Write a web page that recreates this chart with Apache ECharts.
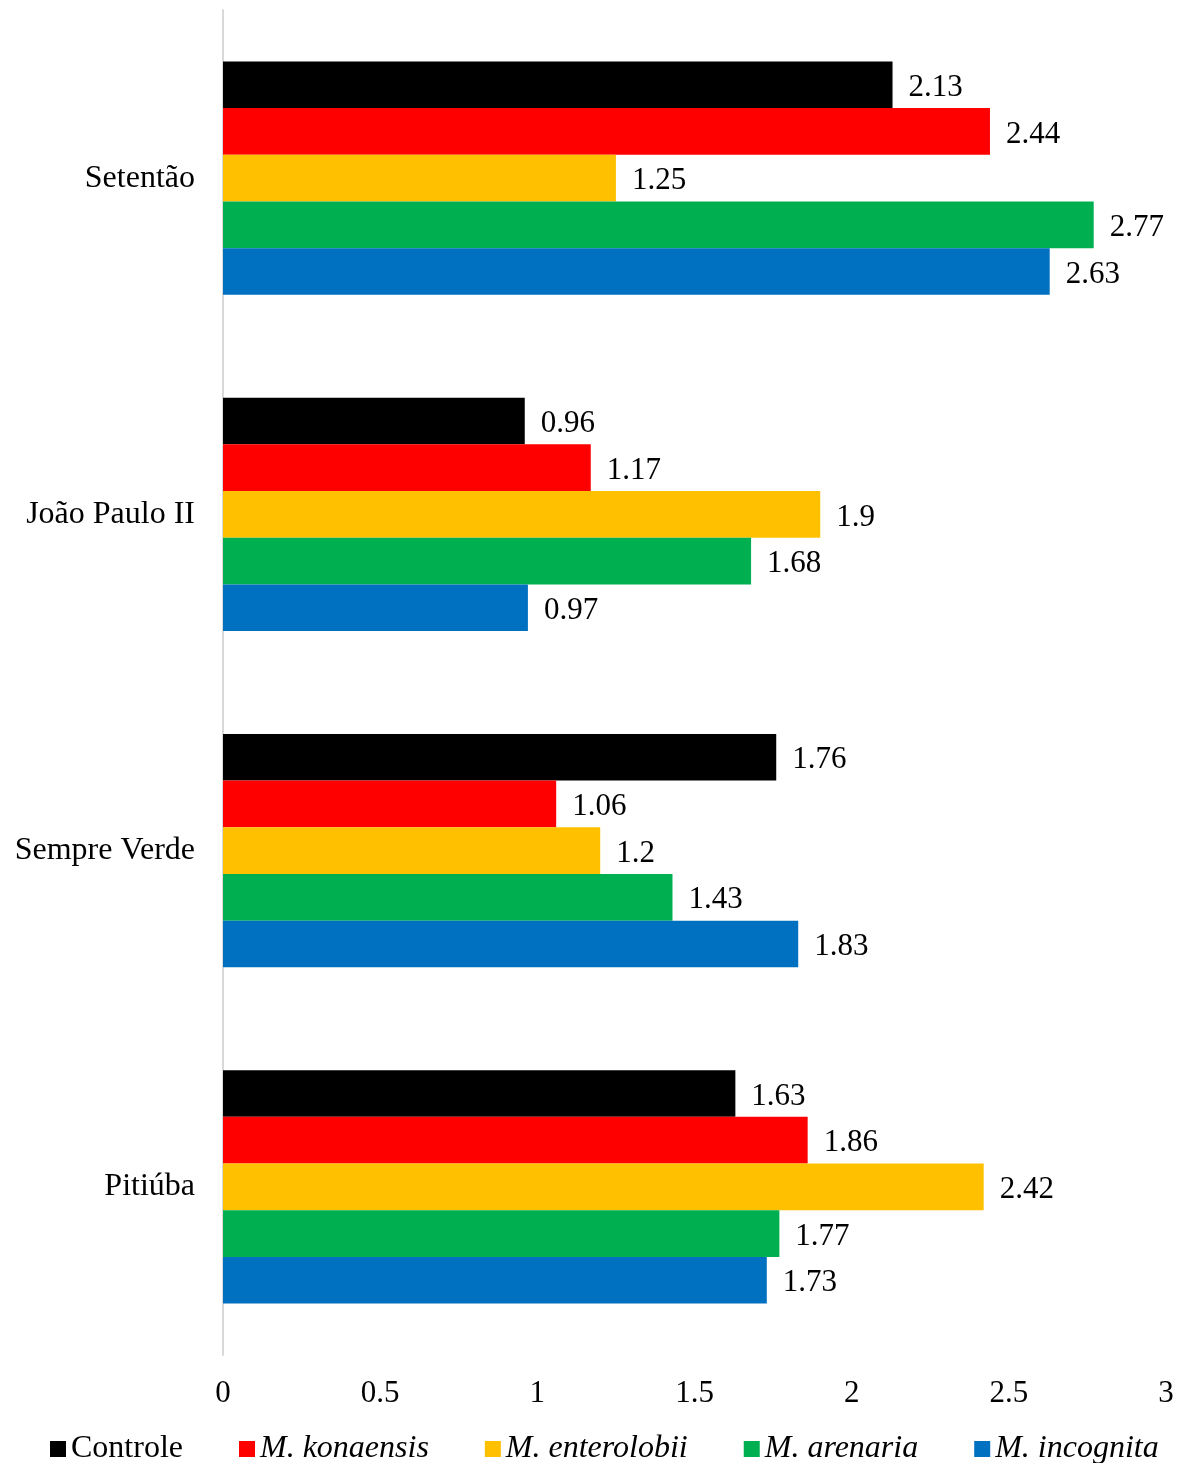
<!DOCTYPE html>
<html>
<head>
<meta charset="utf-8">
<script src="https://cdn.jsdelivr.net/npm/echarts@6/dist/echarts.min.js"></script>
<style>
  html, body { margin: 0; padding: 0; background: #fff; }
  #chart { width: 1187px; height: 1463px; }
</style>
</head>
<body>
<div id="chart"></div>
<script>
// categories (top to bottom)
var sites = ['Setentão', 'João Paulo II', 'Sempre Verde', 'Pitiúba'];
var seriesNames = ['Controle', 'M. konaensis', 'M. enterolobii', 'M. arenaria', 'M. incognita'];
var controle = [2.13, 0.96, 1.76, 1.63];
var konaensis = [2.44, 1.17, 1.06, 1.86];
var enterolobii = [1.25, 1.9, 1.2, 2.42];
var arenaria = [2.77, 1.68, 1.43, 1.77];
var incognita = [2.63, 0.97, 1.83, 1.73];
var colors = ['#000000', '#ff0000', '#ffc000', '#00b050', '#0070c0'];

var font = '"Liberation Serif", "Times New Roman", serif';
var fs = 31;
var allData = [controle, konaensis, enterolobii, arenaria, incognita];

var myChart = echarts.init(document.getElementById('chart'));

var series = seriesNames.map(function (name, i) {
    return {
        name: name,
        type: 'bar',
        barGap: '0%',
        barCategoryGap: '30.6%',
        itemStyle: { color: colors[i] },
        label: {
            show: true,
            position: 'right',
            distance: 16,
            offset: [0, 3],
            color: '#000',
            fontFamily: font,
            fontSize: fs
        },
        data: allData[i]
    };
});

var option = {
    animation: false,
    backgroundColor: '#fff',
    grid: { left: 223, right: 21, top: 10, bottom: 108 },
    legend: {
        top: 1428,
        left: 45,
        itemWidth: 16,
        itemHeight: 16,
        itemGap: 56,
        icon: 'rect',
        textStyle: { fontFamily: font, fontSize: 32, color: '#000' },
        data: seriesNames.map(function (n, i) {
            return { name: n, textStyle: { fontStyle: i === 0 ? 'normal' : 'italic' } };
        })
    },
    xAxis: {
        type: 'value',
        min: 0,
        max: 3,
        interval: 0.5,
        axisLine: { show: false },
        axisTick: { show: false },
        splitLine: { show: false },
        axisLabel: { fontFamily: font, fontSize: fs, color: '#000', margin: 23 }
    },
    yAxis: {
        type: 'category',
        inverse: true,
        data: sites,
        axisLine: { show: true, lineStyle: { color: '#d9d9d9', width: 2 } },
        axisTick: { show: false },
        axisLabel: { fontFamily: font, fontSize: 32, color: '#000', margin: 28, padding: [6, 0, 0, 0] }
    },
    series: series
};

myChart.setOption(option);
</script>
</body>
</html>
